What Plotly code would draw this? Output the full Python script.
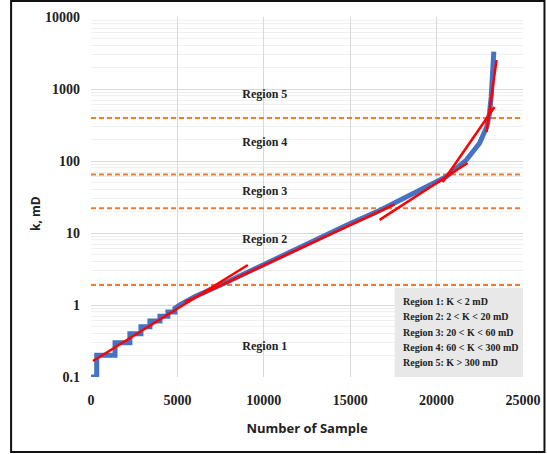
import plotly.graph_objects as go

# ---- data ----
sample_x = [0, 330, 330, 1390, 1390, 2250, 2250, 2890, 2890, 3410, 3410, 3990, 3990,
            4450, 4450, 4855, 4855, 5140, 6000, 7000, 8000, 9000, 10000, 11500, 13000,
            15000, 16500, 17860, 19016, 20560, 21716, 22484, 22906, 23062, 23160,
            23253, 23311]
perm_k = [0.1, 0.1, 0.2, 0.2, 0.3, 0.3, 0.4, 0.4, 0.5, 0.5, 0.6, 0.6, 0.7,
          0.7, 0.8, 0.8, 0.9, 1.0, 1.3, 1.65, 2.15, 2.8, 3.65, 5.4, 8.0,
          13.5, 19.5, 28.5, 39.6, 60.5, 103, 176, 299, 460, 782,
          1483, 3300]

fit_x = [[116, 9075], [5433, 17570], [16700, 21790], [20350, 23350], [22890, 23470]]
fit_k = [[0.167, 3.6], [1.1, 25.0], [15.2, 93.8], [51, 562], [253, 2530]]

boundary_k = [1.9, 22, 65, 395]

region_names = ["Region 1", "Region 2", "Region 3", "Region 4", "Region 5"]
region_label_x = [10060, 10060, 10060, 10060, 10060]
region_label_k = [0.26, 8.0, 37, 178, 826]

legend_lines = ["Region 1: K < 2 mD", "Region 2: 2 < K < 20 mD", "Region 3: 20 < K < 60 mD",
                "Region 4: 60 < K < 300 mD", "Region 5: K > 300 mD"]

x_ticks = [0, 5000, 10000, 15000, 20000, 25000]
x_ticklabels = ["0", "5000", "10000", "15000", "20000", "25000"]
y_ticks = [0.1, 1, 10, 100, 1000, 10000]
y_ticklabels = ["0.1", "1", "10", "100", "1000", "10000"]

SERIF = "Liberation Serif"
SANS = "Open Sans"

fig = go.Figure()

for bk in boundary_k:
    fig.add_trace(go.Scatter(x=[0, 25000], y=[bk, bk], mode="lines",
                             line=dict(color="#ED7D31", width=2, dash="5px,3px"),
                             hoverinfo="skip", showlegend=False))

fig.add_trace(go.Scatter(x=sample_x, y=perm_k, mode="lines",
                         line=dict(color="#4472C4", width=5, shape="linear"),
                         showlegend=False))

for fx, fk in zip(fit_x, fit_k):
    fig.add_trace(go.Scatter(x=fx, y=fk, mode="lines",
                             line=dict(color="#FF0000", width=2.5),
                             showlegend=False))

fig.add_trace(go.Scatter(x=region_label_x, y=region_label_k, mode="text",
                         text=region_names,
                         textfont=dict(family=SERIF, size=12, color="#222222", weight="bold"),
                         showlegend=False, hoverinfo="skip"))

# legend box (paper coords of plot area)
fig.add_shape(type="rect", xref="paper", yref="paper",
              x0=(395 - 91) / 432.5, x1=1.0, y0=0.0, y1=(377 - 288) / 360,
              fillcolor="#e8e8e8", line=dict(width=0), layer="above")
legend_y_px = [301, 316, 332, 347, 362]
for txt, ypx in zip(legend_lines, legend_y_px):
    fig.add_annotation(xref="paper", yref="paper", x=(401 - 91) / 432.5,
                       y=(377 - ypx) / 360, text=txt, showarrow=False,
                       xanchor="left", yanchor="middle",
                       font=dict(family=SERIF, size=10, color="#222222", weight="bold"))

# y axis title
fig.add_annotation(xref="paper", yref="paper", x=(35 - 91) / 432.5, y=(377 - 214) / 360,
                   text="k, mD", textangle=-90, showarrow=False,
                   xanchor="center", yanchor="middle",
                   font=dict(family=SANS, size=12, color="#222222", weight="bold"))

# outer frame
fig.add_shape(type="rect", xref="paper", yref="paper",
              x0=(11 - 91) / 432.5, x1=(545 - 91) / 432.5,
              y0=(377 - 452) / 360, y1=(377 - 1) / 360,
              line=dict(color="#111111", width=2), fillcolor="rgba(0,0,0,0)")

fig.update_layout(
    width=547, height=454,
    margin=dict(l=91, r=23.5, t=17, b=77, autoexpand=False),
    paper_bgcolor="white", plot_bgcolor="white",
    xaxis=dict(range=[0, 25000], tickvals=x_ticks, ticktext=x_ticklabels,
               showgrid=True, gridcolor="#d9d9d9", automargin=False,
               gridwidth=1, zeroline=False, showline=False, ticks="",
               ticklabelstandoff=13,
               tickfont=dict(family=SERIF, size=14, color="#222222", weight="bold"),
               title=dict(text="Number of Sample", standoff=16,
                          font=dict(family=SANS, size=13, color="#222222", weight="bold"))),
    yaxis=dict(type="log", range=[-1, 4], tickvals=y_ticks, ticktext=y_ticklabels,
               showgrid=True, gridcolor="#d9d9d9", gridwidth=1, zeroline=False,
               showline=False, ticks="", ticklabelstandoff=10, automargin=False,
               minor=dict(showgrid=True, gridcolor="#f0f0f0", gridwidth=1,
                          dtick="D1"),
               tickfont=dict(family=SERIF, size=14, color="#222222", weight="bold")),
)

fig.write_html("out.html")
